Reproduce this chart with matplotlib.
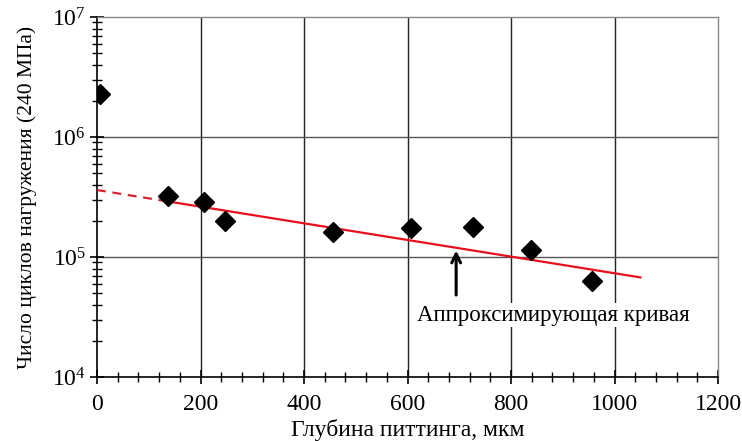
import matplotlib
matplotlib.use("Agg")
import matplotlib.pyplot as plt
import numpy as np
from matplotlib.ticker import LogLocator, MultipleLocator, NullFormatter

plt.rcParams['font.family'] = ['Liberation Serif', 'DejaVu Serif']
plt.rcParams['mathtext.fontset'] = 'stix'

depth = [5, 137, 206, 247, 457, 607, 726, 838, 956]
cycles = [2.3e6, 3.25e5, 2.85e5, 2.0e5, 1.62e5, 1.73e5, 1.78e5, 1.15e5, 6.3e4]

fit_x_dash = [0, 130]
fit_x_solid = [130, 1050]
fit_log_a = 5.558
fit_log_b = -(5.558 - 4.83) / 1050

def fit(x):
    return 10 ** (fit_log_a + fit_log_b * np.asarray(x, dtype=float))

fig = plt.figure(figsize=(7.42, 4.41), dpi=100)
ax = fig.add_axes([97/742, 1 - 377/441, (718 - 97)/742, (377 - 17)/441])
ax.set_yscale('log')
ax.set_xlim(0, 1200)
ax.set_ylim(1e4, 1e7)

for x in [200, 400, 600, 800, 1000]:
    ax.axvline(x, color='#222222', lw=1.0, zorder=1)
for y in [1e5, 1e6]:
    ax.axhline(y, color='#555555', lw=1.0, zorder=1)

xd = np.linspace(*fit_x_dash, 20)
xs = np.linspace(*fit_x_solid, 50)
ax.plot(xd, fit(xd), color='#d9232e', lw=1.6, ls=(0, (4, 3)), zorder=3)
ax.plot(xs, fit(xs), color='#e8101e', lw=1.6, zorder=3)

ax.plot(depth, cycles, ls='none', marker='D', ms=10, color='black', zorder=4)

ax.annotate('', xy=(694, fit(694)), xytext=(694, 10 ** 4.66),
            arrowprops=dict(arrowstyle='->', color='black', lw=2.2, mutation_scale=16), zorder=5)
ax.text(881, 10 ** 4.515, 'Аппроксимирующая кривая', fontsize=16.5, ha='center', va='center',
        bbox=dict(facecolor='white', edgecolor='none', pad=1), zorder=5)

ax.set_xticks([0, 200, 400, 600, 800, 1000, 1200])
ax.xaxis.set_minor_locator(MultipleLocator(40))
ax.yaxis.set_major_locator(LogLocator(base=10, numticks=10))
ax.yaxis.set_minor_locator(LogLocator(base=10, subs=np.arange(2, 10), numticks=20))
ax.yaxis.set_minor_formatter(NullFormatter())

ax.tick_params(which='major', direction='inout', length=10, width=1.2, labelsize=17, color='black')
ax.tick_params(which='minor', direction='inout', length=7, width=1.0, color='black')
ax.tick_params(axis='x', which='major', pad=7)
ax.tick_params(axis='y', which='major', pad=3)
ax.tick_params(top=False, right=False)

for s in ['left', 'bottom']:
    ax.spines[s].set_color('black')
    ax.spines[s].set_linewidth(1.2)
for s in ['top', 'right']:
    ax.spines[s].set_color('#888888')
    ax.spines[s].set_linewidth(1.0)

ax.set_xlabel('Глубина питтинга, мкм', fontsize=17, labelpad=3)
ax.set_ylabel('Число циклов нагружения (240 МПа)', fontsize=15.5, labelpad=11)

fig.savefig('out.png', dpi=100)
